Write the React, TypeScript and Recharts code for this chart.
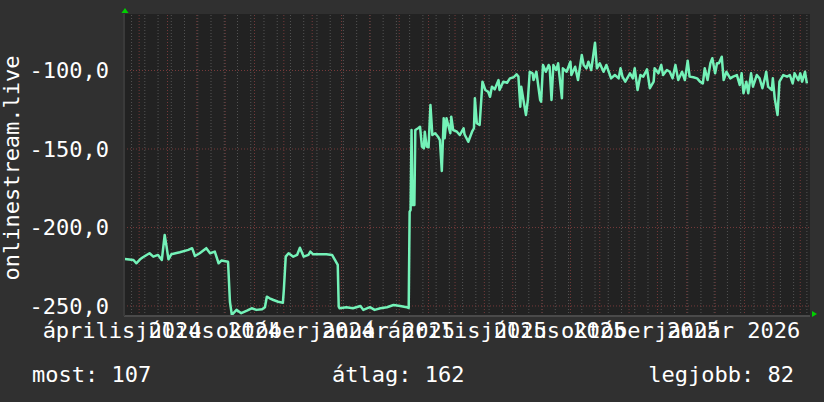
import { LineChart, Line, XAxis, YAxis, CartesianGrid, ReferenceLine } from 'recharts';

// days since 2024-04-03 (left edge of the plot)
const START = Date.UTC(2024, 3, 3);
const DAY = 86400000;
const dayOf = (y: number, m: number, d: number) => (Date.UTC(y, m, d) - START) / DAY;

const days = [
  1, 10, 13, 17, 20, 27, 31, 36, 40, 43, 45, 47, 50, 59, 68, 72, 75, 80, 87, 91, 96, 100, 103, 110, 112, 114,
  119, 124, 130, 135, 140, 146, 149, 151, 154, 158, 163, 168, 169, 171, 174, 179, 183, 186, 190, 195, 197, 200,
  207, 214, 220, 223, 226, 227, 228, 235, 242, 250, 253, 260, 265, 271, 278, 285, 292, 299, 301, 302, 303, 304,
  305, 307, 308, 311, 313, 315, 317, 318, 320, 322, 324, 326, 329, 332, 334, 336, 338, 339, 341, 345, 346, 348,
  352, 355, 359, 360, 364, 368, 370, 371, 373, 376, 379, 382, 385, 387, 389, 392, 396, 397, 401, 405, 408, 412,
  415, 417, 419, 420, 422, 425, 427, 429, 432, 433, 436, 440, 441, 443, 446, 449, 450, 452, 454, 457, 459, 463,
  464, 468, 472, 473, 477, 480, 484, 486, 489, 491, 494, 498, 500, 503, 507, 510, 515, 519, 523, 525, 527, 530,
  535, 538, 540, 543, 546, 549, 553, 556, 560, 561, 565, 568, 570, 574, 577, 580, 583, 586, 590, 593, 596, 598,
  602, 606, 609, 612, 614, 617, 620, 622, 625, 627, 629, 632, 634, 637, 641, 644, 648, 651, 653, 655, 658, 660,
  663, 665, 669, 672, 675, 678, 679, 681, 685, 686, 688, 691, 693, 697, 701, 704, 707, 709, 713, 715, 717, 720, 722,
];

const values = [
  -220.1, -220.7, -222.8, -220.3, -219.0, -216.4, -218.6, -217.5, -220.7, -204.8, -212.2, -220.3, -217.1, -215.8,
  -214.3, -213.2, -218.2, -216.4, -213.2, -216.4, -215.4, -222.8, -221.1, -221.8, -247.3, -255.7, -252.5, -254.6,
  -253.0, -251.5, -252.5, -252.1, -250.8, -244.1, -245.1, -246.2, -247.3, -247.9, -239.8, -218.6, -216.4, -218.6,
  -217.5, -212.9, -218.6, -217.5, -215.4, -217.1, -217.1, -217.1, -217.5, -220.7, -223.9, -250.4, -251.5, -250.8,
  -251.5, -250.0, -252.5, -250.8, -252.5, -251.5, -250.8, -249.4, -250.0, -250.8, -251.3, -189.9, -188.9, -137.9,
  -185.7, -185.7, -137.9, -136.8, -135.8, -148.5, -149.6, -139.0, -148.5, -148.9, -122.0, -141.1, -140.0, -142.2,
  -144.3, -164.0, -130.4, -143.2, -130.4, -140.0, -129.4, -137.9, -139.0, -141.1, -136.8, -140.6, -145.4, -139.0,
  -136.8, -117.7, -133.6, -134.7, -107.1, -112.4, -113.5, -116.7, -110.3, -112.0, -106.1, -112.4, -107.1, -107.8,
  -105.0, -104.3, -102.4, -103.9, -123.1, -110.3, -117.7, -128.3, -118.8, -100.8, -101.8, -106.1, -100.8, -118.8,
  -119.9, -96.5, -100.8, -96.5, -97.6, -118.8, -96.5, -99.7, -95.4, -117.7, -98.6, -100.8, -94.4, -102.9, -97.6,
  -106.1, -90.1, -96.5, -98.6, -94.4, -99.7, -82.3, -98.6, -95.4, -100.8, -96.5, -105.0, -102.9, -105.0, -98.6,
  -103.9, -107.1, -101.8, -105.0, -98.6, -112.4, -102.9, -103.9, -99.2, -111.3, -107.1, -98.6, -101.8, -96.5,
  -102.9, -99.7, -100.8, -105.0, -96.5, -106.1, -100.8, -106.1, -93.8, -103.9, -104.3, -105.0, -107.1, -108.2,
  -98.6, -106.1, -95.4, -92.2, -101.8, -95.4, -95.4, -91.2, -106.1, -100.8, -105.0, -103.9, -102.9, -109.2,
  -101.8, -114.5, -107.1, -114.5, -101.8, -110.3, -102.9, -105.0, -111.3, -103.9, -100.8, -110.3, -112.4, -105.0,
  -117.7, -128.3, -107.1, -102.9, -103.9, -102.9, -108.2, -101.8, -106.1, -101.8, -107.1, -100.8, -108.2,
];

const labelDates: [number, number, number][] = [
  [2024, 3, 1], [2024, 6, 1], [2024, 9, 1], [2025, 0, 1],
  [2025, 3, 1], [2025, 6, 1], [2025, 9, 1], [2026, 0, 1],
];
const labelTexts = [
  'április 2024', 'július 2024', 'október 2024', 'január 2025',
  'április 2025', 'július 2025', 'október 2025', 'január 2026',
];
const yTicks = [-250, -200, -150, -100];

const stats = { now: 'most: 107', avg: 'átlag: 162', best: 'legjobb: 82' };

const data = days.map((d, i) => ({ d, v: values[i] }));
const labelDays = labelDates.map(([y, m, d]) => dayOf(y, m, d));

// grid: red at months / every 50, gray dotted every 2 weeks / every 5
const monthLines: number[] = [];
for (let m = 0; m < 24; m++) monthLines.push(dayOf(2024, 3 + m, 19));
const minorX: number[] = [];
for (let d = 8; d < 725; d += 14) minorX.push(d);
const minorY: number[] = [];
for (let v = -255; v >= -65; v -= 5) minorY.push(v);

const FONT = 'DejaVu Sans Mono';
const FS = 22;
const GRAY = '#545454';
const RED = '#763a3a';

const XTick = ({ x, y, payload }: any) => {
  const i = labelDays.indexOf(payload.value);
  return (
    <text x={x} y={y + 22} textAnchor="middle" fill="#fff" fontFamily={FONT} fontSize={FS}>
      {labelTexts[i]}
    </text>
  );
};

const YTick = ({ x, y, payload }: any) => (
  <text x={x} y={y} dy="0.36em" textAnchor="end" fill="#fff" fontFamily={FONT} fontSize={FS}>
    {payload.value.toFixed(1).replace('.', ',')}
  </text>
);

export default function App() {
  return (
    <div style={{ position: 'absolute', left: 0, top: 0, width: 824, height: 402, background: '#303030' }}>
      <LineChart width={824} height={402} data={data} margin={{ top: 14, right: 14, left: 0, bottom: 0 }}>
        <CartesianGrid fill="#222222" horizontal={false} vertical={false} />
        {minorY.map((v) => (
          <ReferenceLine key={'mh' + v} y={v} stroke={GRAY} strokeDasharray="1 2" />
        ))}
        {minorX.map((d) => (
          <ReferenceLine key={'mv' + d} x={d} stroke={GRAY} strokeDasharray="1 2" />
        ))}
        {yTicks.map((v) => (
          <ReferenceLine key={'h' + v} y={v} stroke={RED} strokeDasharray="1 2" />
        ))}
        {monthLines.map((d) => (
          <ReferenceLine key={'v' + d} x={d} stroke={RED} strokeDasharray="1 2" />
        ))}
        <XAxis
          dataKey="d"
          type="number"
          domain={[0, 725.3]}
          ticks={labelDays}
          interval={0}
          allowDataOverflow
          height={86}
          tickLine={false}
          tickSize={0}
          tickMargin={0}
          tick={<XTick />}
          axisLine={{ stroke: '#4a4a4a', strokeWidth: 2 }}
        />
        <YAxis
          type="number"
          domain={[-256.4, -64]}
          ticks={yTicks}
          interval={0}
          allowDataOverflow
          width={124}
          tickLine={false}
          tickSize={0}
          tickMargin={15}
          tick={<YTick />}
          axisLine={{ stroke: '#3a3a3a', strokeWidth: 2 }}
        />
        <Line
          type="linear"
          dataKey="v"
          stroke="#74f2b8"
          strokeWidth={2.5}
          strokeLinejoin="round"
          dot={false}
          isAnimationActive={false}
        />
      </LineChart>
      <svg
        width={824}
        height={402}
        style={{ position: 'absolute', left: 0, top: 0, pointerEvents: 'none' }}
      >
        <text
          transform="translate(18.5,168) rotate(-90)"
          textAnchor="middle"
          fill="#fff"
          fontFamily={FONT}
          fontSize={FS}
        >
          onlinestream.live
        </text>
        <polygon points="125,8 121.5,13 128.5,13" fill="#00d000" />
        <polygon points="812,311 812,317 817,314" fill="#00d000" />
        <text x={32} y={382} fill="#fff" fontFamily={FONT} fontSize={FS}>{stats.now}</text>
        <text x={332} y={382} fill="#fff" fontFamily={FONT} fontSize={FS}>{stats.avg}</text>
        <text x={794} y={382} textAnchor="end" fill="#fff" fontFamily={FONT} fontSize={FS}>{stats.best}</text>
      </svg>
    </div>
  );
}
